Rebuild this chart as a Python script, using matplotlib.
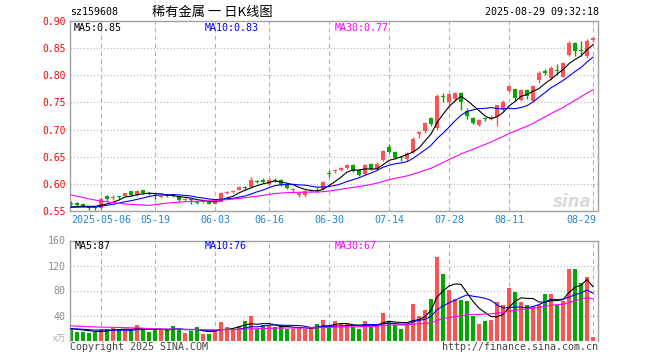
import matplotlib
matplotlib.use("Agg")
import matplotlib.pyplot as plt
import numpy as np
import pandas as pd

# trading days shown (2025)
days = ["04-24", "04-25", "04-28", "04-29", "04-30",
        "05-06", "05-07", "05-08", "05-09", "05-12", "05-13", "05-14", "05-15", "05-16",
        "05-19", "05-20", "05-21", "05-22", "05-23", "05-26", "05-27", "05-28", "05-29", "05-30",
        "06-03", "06-04", "06-05", "06-06", "06-09", "06-10", "06-11", "06-12", "06-13",
        "06-16", "06-17", "06-18", "06-19", "06-20", "06-23", "06-24", "06-25", "06-26", "06-27",
        "06-30", "07-01", "07-02", "07-03", "07-04", "07-07", "07-08", "07-09", "07-10", "07-11",
        "07-14", "07-15", "07-16", "07-17", "07-18", "07-21", "07-22", "07-23", "07-24", "07-25",
        "07-28", "07-29", "07-30", "07-31", "08-01", "08-04", "08-05", "08-06", "08-07", "08-08",
        "08-11", "08-12", "08-13", "08-14", "08-15", "08-18", "08-19", "08-20", "08-21", "08-22",
        "08-25", "08-26", "08-27", "08-28", "08-29"]
dates = ["2025-" + d for d in days]

opens = [0.565, 0.564, 0.563, 0.556, 0.556, 0.556, 0.577, 0.574, 0.576, 0.578,
         0.586, 0.579, 0.588, 0.583, 0.580, 0.576, 0.581, 0.581, 0.577, 0.571,
         0.571, 0.567, 0.566, 0.567, 0.563, 0.567, 0.584, 0.585, 0.589, 0.593,
         0.594, 0.605, 0.608, 0.600, 0.607, 0.607, 0.598, 0.588, 0.580, 0.579,
         0.587, 0.589, 0.590, 0.619, 0.623, 0.626, 0.630, 0.635, 0.625, 0.619,
         0.636, 0.628, 0.644, 0.667, 0.658, 0.648, 0.645, 0.659, 0.691, 0.697,
         0.721, 0.702, 0.761, 0.750, 0.756, 0.768, 0.735, 0.722, 0.708, 0.720,
         0.720, 0.723, 0.737, 0.771, 0.774, 0.755, 0.773, 0.752, 0.792, 0.807,
         0.795, 0.810, 0.797, 0.838, 0.860, 0.846, 0.836, 0.865]
highs = [0.568, 0.566, 0.565, 0.558, 0.558, 0.575, 0.580, 0.579, 0.577, 0.584,
         0.587, 0.588, 0.589, 0.585, 0.581, 0.580, 0.582, 0.582, 0.578, 0.574,
         0.572, 0.568, 0.572, 0.568, 0.570, 0.585, 0.587, 0.588, 0.596, 0.596,
         0.612, 0.608, 0.611, 0.611, 0.610, 0.609, 0.600, 0.592, 0.585, 0.588,
         0.591, 0.594, 0.606, 0.625, 0.627, 0.631, 0.636, 0.637, 0.627, 0.637,
         0.638, 0.640, 0.662, 0.673, 0.661, 0.652, 0.659, 0.686, 0.698, 0.714,
         0.723, 0.765, 0.768, 0.768, 0.769, 0.770, 0.740, 0.723, 0.720, 0.724,
         0.726, 0.746, 0.755, 0.781, 0.775, 0.775, 0.774, 0.782, 0.807, 0.812,
         0.817, 0.820, 0.825, 0.863, 0.862, 0.864, 0.866, 0.871]
lows = [0.560, 0.559, 0.557, 0.551, 0.552, 0.553, 0.569, 0.570, 0.573, 0.577,
        0.578, 0.578, 0.581, 0.579, 0.573, 0.574, 0.576, 0.576, 0.569, 0.568,
        0.563, 0.563, 0.565, 0.562, 0.562, 0.566, 0.582, 0.583, 0.588, 0.588,
        0.592, 0.601, 0.602, 0.598, 0.603, 0.596, 0.590, 0.583, 0.576, 0.576,
        0.585, 0.585, 0.589, 0.612, 0.620, 0.624, 0.628, 0.621, 0.615, 0.617,
        0.625, 0.626, 0.643, 0.656, 0.645, 0.643, 0.642, 0.656, 0.684, 0.694,
        0.707, 0.700, 0.750, 0.746, 0.753, 0.736, 0.719, 0.711, 0.706, 0.716,
        0.717, 0.706, 0.735, 0.769, 0.752, 0.752, 0.757, 0.750, 0.785, 0.800,
        0.792, 0.800, 0.796, 0.835, 0.835, 0.836, 0.832, 0.862]
closes = [0.563, 0.561, 0.559, 0.555, 0.555, 0.573, 0.573, 0.575, 0.575, 0.583,
          0.580, 0.587, 0.583, 0.582, 0.578, 0.578, 0.577, 0.578, 0.571, 0.572,
          0.570, 0.564, 0.570, 0.563, 0.568, 0.584, 0.585, 0.586, 0.594, 0.592,
          0.607, 0.604, 0.603, 0.607, 0.606, 0.598, 0.592, 0.589, 0.583, 0.587,
          0.588, 0.587, 0.604, 0.618, 0.624, 0.629, 0.634, 0.623, 0.617, 0.635,
          0.627, 0.637, 0.660, 0.658, 0.648, 0.647, 0.657, 0.683, 0.696, 0.713,
          0.710, 0.762, 0.760, 0.766, 0.767, 0.751, 0.725, 0.713, 0.718, 0.719,
          0.724, 0.745, 0.750, 0.780, 0.759, 0.773, 0.761, 0.780, 0.805, 0.805,
          0.813, 0.807, 0.822, 0.860, 0.844, 0.845, 0.864, 0.869]
# volume, 10k shares
volumes = [19.2, 14.0, 14.0, 12.4, 14.0, 18.0, 18.0, 20.7, 16.6, 17.6,
           16.6, 24.4, 17.6, 14.0, 18.0, 16.6, 17.6, 22.8, 17.6, 12.4,
           15.6, 21.8, 10.4, 10.4, 15.6, 29.6, 21.8, 19.2, 22.8, 31.0,
           38.9, 18.0, 24.4, 22.8, 21.8, 24.4, 19.2, 18.0, 20.7, 19.2,
           19.2, 25.9, 32.2, 20.7, 31.0, 26.0, 26.0, 21.8, 18.0, 31.0,
           21.8, 27.0, 43.6, 31.0, 24.4, 18.0, 26.0, 59.0, 40.0, 49.3,
           67.0, 133.0, 105.8, 80.4, 65.9, 64.8, 63.3, 38.9, 26.0, 31.0,
           32.2, 61.7, 57.0, 84.0, 77.3, 61.7, 57.0, 55.5, 57.0, 74.7,
           74.7, 57.0, 63.3, 115.0, 115.0, 92.8, 101.0, 6.2]

# sessions before the window, only used to warm up the moving averages
prev_closes = [0.632, 0.630, 0.628, 0.625, 0.622, 0.620, 0.620, 0.615, 0.612, 0.610,
               0.606, 0.600, 0.598, 0.540, 0.535, 0.534, 0.545, 0.548, 0.550, 0.553,
               0.555, 0.556, 0.557, 0.556, 0.555, 0.556, 0.557, 0.555, 0.555]
prev_volumes = [26, 24, 28, 25, 27, 23, 26, 25, 24, 27, 29, 31, 33, 28, 25, 22, 21, 24, 23, 19,
                20, 18, 19, 21, 17, 19, 20, 18, 19]

tick_days = ["2025-05-06", "2025-05-19", "2025-06-03", "2025-06-16", "2025-06-30",
             "2025-07-14", "2025-07-28", "2025-08-11", "2025-08-29"]
tick_labels = ["2025-05-06", "05-19", "06-03", "06-16", "06-30", "07-14", "07-28", "08-11", "08-29"]
price_ticks = [0.55, 0.60, 0.65, 0.70, 0.75, 0.80, 0.85, 0.90]
vol_ticks = [40, 80, 120, 160]

RED = "#ff5252"
GREEN = "#00a800"
GRID = "#b4b4b4"
FRAME = "#a0a0a0"
MONO = "DejaVu Sans Mono"
CJK = ["Noto Sans CJK SC", "DejaVu Sans"]

def ma(prev, vals, n):
    s = pd.Series(list(prev) + list(vals)).rolling(n).mean()
    return s.iloc[len(prev):].to_numpy()

o = np.array(opens); h = np.array(highs); l = np.array(lows); c = np.array(closes)
v = np.array(volumes)
x = np.arange(len(dates))
cols = np.where(c >= o, RED, GREEN)
tick_x = [dates.index(d) for d in tick_days]

W, H = 660, 360
fig = plt.figure(figsize=(W / 100, H / 100), dpi=100)

def box(left, top, right, bottom):
    return [left / W, 1 - bottom / H, (right - left) / W, (bottom - top) / H]

def ftext(px, py, s, **kw):
    fig.text(px / W, 1 - py / H, s, **kw)

ax = fig.add_axes(box(70, 21, 598, 211))
axv = fig.add_axes(box(70, 240.5, 598, 340.5))

xlim = (-0.17, 87.83)
for a in (ax, axv):
    a.set_xlim(*xlim)
    for sp in a.spines.values():
        sp.set_color(FRAME)
        sp.set_linewidth(1.0)
    a.tick_params(length=0, pad=3)
    a.set_xticks([])
    for t in tick_x:
        a.axvline(t, color=GRID, lw=0.8, ls=(0, (4, 3)), zorder=0)
axv.spines["bottom"].set_visible(False)

# price panel
ax.set_ylim(0.55, 0.90)
ax.set_yticks(price_ticks)
ax.set_yticklabels(["%.2f" % p for p in price_ticks], color="red", fontsize=7, family=MONO)
for p in price_ticks[1:-1]:
    ax.axhline(p, color=GRID, lw=0.8, ls=(0, (1, 2)), zorder=0)

ax.vlines(x, l, h, colors=cols, lw=1.0, zorder=2)
ax.bar(x, np.maximum(np.abs(c - o), 0.0019), bottom=np.minimum(o, c), width=0.8,
       color=cols, linewidth=0, zorder=3)
ax.plot(x, ma(prev_closes, closes, 5), color="black", lw=0.8, zorder=4)
ax.plot(x, ma(prev_closes, closes, 10), color="#0000ff", lw=0.8, zorder=4)
ax.plot(x, ma(prev_closes, closes, 30), color="#ff00ff", lw=0.8, zorder=4)

for t, lab in zip(tick_x, tick_labels):
    last = t == tick_x[-1]
    ax.text(t + (0.6 if last else 0), -0.045, lab, transform=ax.get_xaxis_transform(),
            ha="right" if last else "center", va="center", color="#1e88d8",
            fontsize=7.2, family=MONO)

ax.text(86.8, 0.567, "sina", ha="right", va="center", fontsize=12, fontweight="bold",
        style="italic", color="#dadada", zorder=1)

# volume panel
axv.set_ylim(0, 160)
axv.set_yticks(vol_ticks)
axv.set_yticklabels([str(t) for t in vol_ticks], color="#8c8c8c", fontsize=7.2, family=MONO)
for t in vol_ticks[:-1]:
    axv.axhline(t, color=GRID, lw=0.8, ls=(0, (1, 2)), zorder=0)
axv.bar(x, v, width=0.8, color=cols, linewidth=0, zorder=2)
axv.plot(x, ma(prev_volumes, volumes, 5), color="black", lw=0.8, zorder=3)
axv.plot(x, ma(prev_volumes, volumes, 10), color="#0000ff", lw=0.8, zorder=3)
axv.plot(x, ma(prev_volumes, volumes, 30), color="#ff00ff", lw=0.8, zorder=3)

# header and labels
ftext(70, 12, "sz159608", fontsize=7.2, family=MONO, va="center")
ftext(152, 12, "稀有金属 一 日K线图", fontsize=9.5, family=CJK, va="center")
ftext(599, 12, "2025-08-29 09:32:18", fontsize=7.2, family=MONO, va="center", ha="right")

ftext(74, 28, "MA5:0.85", fontsize=7.2, family=MONO, va="center", color="black")
ftext(205, 28, "MA10:0.83", fontsize=7.2, family=MONO, va="center", color="#0000ff")
ftext(335, 28, "MA30:0.77", fontsize=7.2, family=MONO, va="center", color="#ff00ff")

ftext(75, 246, "MA5:87", fontsize=7.2, family=MONO, va="center", color="black")
ftext(205, 246, "MA10:76", fontsize=7.2, family=MONO, va="center", color="#0000ff")
ftext(335, 246, "MA30:67", fontsize=7.2, family=MONO, va="center", color="#ff00ff")

ftext(66, 339, "x万", fontsize=6.5, family=CJK, va="center", ha="right", color="#b0b0b0")
ftext(70, 347, "Copyright 2025 SINA.COM", fontsize=7.2, family=MONO, va="center", color="#444444")
ftext(598, 347, "http://finance.sina.com.cn", fontsize=7.2, family=MONO, va="center",
      ha="right", color="#444444")

fig.savefig("out.png", dpi=100)
